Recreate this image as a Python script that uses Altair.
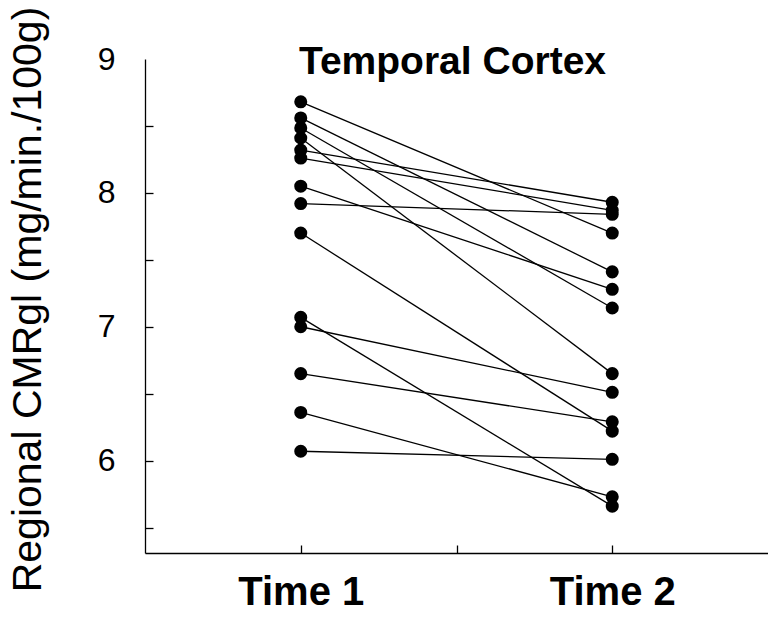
import altair as alt
import pandas as pd

subjects = list(range(1, 15))
time1 = [8.68, 8.56, 8.485, 8.41, 8.32, 8.26, 8.05, 7.92, 7.70, 7.07, 7.00, 6.65, 6.36, 6.07]
time2 = [7.70, 7.41, 7.14, 6.65, 7.93, 7.87, 7.28, 7.84, 6.22, 5.66, 6.51, 6.29, 5.73, 6.01]
time_positions = [1, 2]
time_labels = ["Time 1", "Time 2"]
x_tick_values = [1, 1.5, 2]
y_label_values = [6, 7, 8, 9]
y_tick_values = [5.5, 6, 6.5, 7, 7.5, 8, 8.5]

rows = []
for s, a, b in zip(subjects, time1, time2):
    rows.append({"subject": s, "time": time_positions[0], "value": a})
    rows.append({"subject": s, "time": time_positions[1], "value": b})
df = pd.DataFrame(rows)

W, H = 623, 494
FONT = "Liberation Sans"

label_expr = " : ".join(
    [f"datum.value == {p} ? '{l}'" for p, l in zip(time_positions, time_labels)]
) + " : ''"

x_scale = alt.Scale(domain=[0.5, 2.5], nice=False, zero=False)
y_scale = alt.Scale(domain=[5.31, 9.0], nice=False, zero=False)

lines = alt.Chart(df).mark_line(color="black", strokeWidth=1.3).encode(
    x=alt.X(
        "time:Q", scale=x_scale,
        axis=alt.Axis(
            orient="bottom", values=time_positions, labelExpr=label_expr,
            tickSize=0, labelPadding=19, labelFontSize=40, labelFont=FONT,
            labelFontWeight="bold", labelColor="black", domainColor="black",
            domainWidth=1.3, grid=False, title=None,
        ),
    ),
    y=alt.Y(
        "value:Q", scale=y_scale,
        axis=alt.Axis(
            orient="left", values=y_label_values, format="d", tickSize=0,
            labelPadding=30, labelFontSize=32, labelFont=FONT, labelColor="black",
            domainColor="black", domainWidth=1.3, grid=False,
            title="Regional CMRgl (mg/min./100g)", titleFontSize=41,
            titleFont=FONT, titleFontWeight="normal", titleColor="black",
            titleX=-105, titleY=240, titleBaseline="alphabetic", titleAngle=270,
        ),
    ),
    detail="subject:N",
)

points = alt.Chart(df).mark_circle(color="black", size=170, opacity=1).encode(
    x=alt.X(
        "time:Q", scale=x_scale,
        axis=alt.Axis(
            orient="top", offset=-H, values=x_tick_values, labels=False,
            domain=False, tickSize=8, tickColor="black", tickWidth=1.3,
            grid=False, title=None,
        ),
    ),
    y=alt.Y(
        "value:Q", scale=y_scale,
        axis=alt.Axis(
            orient="right", offset=-W, values=y_tick_values, labels=False,
            domain=False, tickSize=8, tickColor="black", tickWidth=1.3,
            grid=False, title=None,
        ),
    ),
)

chart = (
    alt.layer(lines, points)
    .resolve_axis(x="independent", y="independent")
    .properties(
        width=W, height=H,
        autosize=alt.AutoSizeParams(type="none"),
        padding={"left": 145, "top": 59, "right": 0, "bottom": 64},
        background="white",
        title=alt.TitleParams(
            "Temporal Cortex", fontSize=39, font=FONT, fontWeight="bold",
            color="black", anchor="middle", frame="group", offset=0,
            baseline="alphabetic", dy=107, dx=-4,
        ),
    )
    .configure_view(stroke=None)
)

chart.save("out.html", embed_options={"renderer": "svg", "actions": False})
